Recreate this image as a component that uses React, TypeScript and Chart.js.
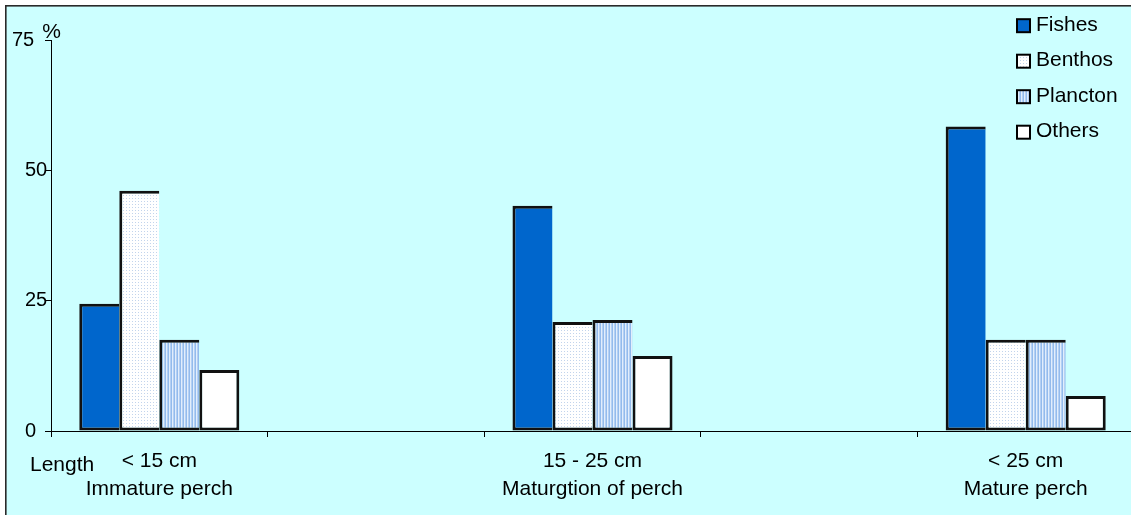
import React, { useEffect, useRef } from "react";
import { Chart, registerables } from "chart.js";

Chart.register(...registerables);

// ---- data ----
const sizeLabels = ["< 15 cm", "", "15 - 25 cm", "", "< 25 cm"];
const stageLabels = ["Immature perch", "", "Maturgtion of perch", "", "Mature perch"];
const seriesNames = ["Fishes", "Benthos", "Plancton", "Others"];
const fishes = [24.4, null, 43.2, null, 58.4];
const benthos = [46.1, null, 20.9, null, 17.5];
const plancton = [17.5, null, 21.3, null, 17.5];
const others = [11.7, null, 14.4, null, 6.7];
const yTicks = [0, 25, 50, 75];
const yTopTick = 75;
const yUnit = "%";
const xAxisName = "Length";

const FONT = "'Liberation Sans', Arial, sans-serif";

function makeDotPattern(): CanvasPattern | string {
  const c = document.createElement("canvas");
  c.width = 3;
  c.height = 3;
  const g = c.getContext("2d");
  if (!g) return "#f4f8ff";
  g.fillStyle = "#ffffff";
  g.fillRect(0, 0, 3, 3);
  g.fillStyle = "#c2d4ec";
  g.fillRect(0, 0, 1, 1);
  const p = g.createPattern(c, "repeat");
  return p || "#f4f8ff";
}

function makeStripePattern(): CanvasPattern | string {
  const c = document.createElement("canvas");
  c.width = 3;
  c.height = 3;
  const g = c.getContext("2d");
  if (!g) return "#bcd4f4";
  g.fillStyle = "#93bbec";
  g.fillRect(0, 0, 1, 3);
  g.fillStyle = "#e2eefc";
  g.fillRect(1, 0, 1, 3);
  g.fillStyle = "#b4d0f4";
  g.fillRect(2, 0, 1, 3);
  const p = g.createPattern(c, "repeat");
  return p || "#bcd4f4";
}

export default function App() {
  const ref = useRef<HTMLCanvasElement | null>(null);

  useEffect(() => {
    document.body.style.margin = "0";
    document.body.style.overflow = "hidden";
    const canvas = ref.current;
    if (!canvas) return;

    const fills: any[] = ["#0066cc", makeDotPattern(), makeStripePattern(), "#ffffff"];
    const values = [fishes, benthos, plancton, others];
    const labels = sizeLabels.map((s, i) => (s ? [s, stageLabels[i]] : ""));

    const backgroundPlugin = {
      id: "bgPlugin",
      beforeDraw(chart: any) {
        const ctx = chart.ctx;
        ctx.save();
        ctx.fillStyle = "#ffffff";
        ctx.fillRect(0, 0, chart.width, chart.height);
        ctx.fillStyle = "#ccffff";
        ctx.fillRect(6, 6, chart.width - 6, chart.height - 6);
        ctx.fillStyle = "#2a2a2a";
        ctx.fillRect(5, 5, chart.width - 5, 1.6);
        ctx.fillRect(5, 5, 1.6, chart.height - 5);
        ctx.restore();
      },
      afterDraw(chart: any) {
        const ctx = chart.ctx;
        const area = chart.chartArea;
        const yScale = chart.scales.y;
        ctx.save();
        ctx.fillStyle = "#000000";
        ctx.textBaseline = "alphabetic";
        // top tick label, placed further left as in the original
        ctx.font = `20px ${FONT}`;
        ctx.textAlign = "left";
        ctx.fillText(String(yTopTick), 12, yScale.getPixelForValue(yTopTick) + 6);
        ctx.font = `21px ${FONT}`;
        // unit label
        ctx.textAlign = "center";
        ctx.fillText(yUnit, area.left + 0.5, 38);
        // axis name
        ctx.textAlign = "left";
        ctx.fillText(xAxisName, 30, 471);
        // legend
        chart.data.datasets.forEach((ds: any, i: number) => {
          const base = 30.7 + 35.5 * i;
          const bx = 1016;
          const by = base - 12.5;
          ctx.fillStyle = "#000000";
          ctx.fillRect(bx, by, 15, 15);
          ctx.fillStyle = ds.backgroundColor;
          ctx.fillRect(bx + 2, by + 2, 11, 11);
          ctx.fillStyle = "#000000";
          ctx.textAlign = "left";
          ctx.fillText(ds.label, 1036, base);
        });
        ctx.restore();
      },
    };

    const chart = new Chart(canvas, {
      type: "bar",
      data: {
        labels,
        datasets: seriesNames.map((name, i) => ({
          label: name,
          data: values[i],
          backgroundColor: fills[i],
          borderColor: "#111111",
          borderWidth: i === 3 ? 3 : { top: 3, left: 3, bottom: 3, right: 0 },
          borderSkipped: false,
          inflateAmount: 0,
          categoryPercentage: 0.739,
          barPercentage: 1,
        })),
      },
      options: {
        responsive: false,
        animation: false,
        devicePixelRatio: 1,
        layout: { padding: { top: 40, right: 0, bottom: 0, left: 25 } },
        plugins: {
          legend: { display: false },
          tooltip: { enabled: false },
        },
        scales: {
          x: {
            offset: true,
            grid: {
              offset: true,
              drawOnChartArea: false,
              drawTicks: true,
              tickLength: 6,
              color: "#000000",
            },
            border: { color: "#000000", width: 1 },
            ticks: {
              color: "#000000",
              font: { family: FONT, size: 21, lineHeight: 1.3 },
              padding: 11,
              maxRotation: 0,
              autoSkip: false,
            },
            afterFit: (s: any) => {
              s.height = 84;
            },
          },
          y: {
            min: 0,
            max: 75,
            afterBuildTicks: (s: any) => {
              s.ticks = yTicks.map((v) => ({ value: v }));
            },
            grid: {
              drawOnChartArea: false,
              drawTicks: true,
              tickLength: 6,
              color: "#000000",
            },
            border: { color: "#000000", width: 1 },
            ticks: {
              color: "#000000",
              font: { family: FONT, size: 20 },
              padding: 10,
              crossAlign: "far",
              callback: (v: any) => (v === yTopTick ? "" : String(v)),
            },
            afterFit: (s: any) => {
              s.width = 26;
            },
          },
        },
      },
      plugins: [backgroundPlugin],
    } as any);

    return () => {
      chart.destroy();
    };
  }, []);

  return (
    <canvas
      ref={ref}
      width={1134}
      height={515}
      style={{ position: "fixed", left: 0, top: 0, display: "block", width: 1134, height: 515 }}
    />
  );
}
